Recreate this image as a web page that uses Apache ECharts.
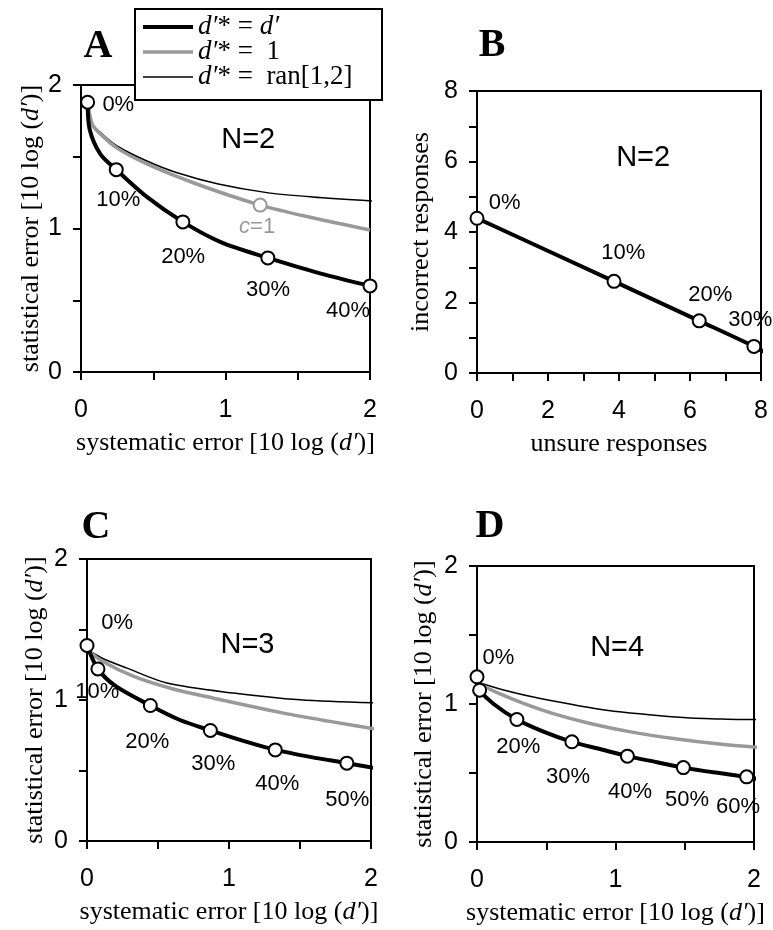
<!DOCTYPE html>
<html>
<head>
<meta charset="utf-8">
<script src="https://cdn.jsdelivr.net/npm/echarts@6/dist/echarts.min.js"></script>
<style>
  html, body { margin: 0; padding: 0; background: #fff; }
  #chart { width: 773px; height: 930px; }
</style>
</head>
<body>
<div id="chart"></div>
<script>
// ---- data ----
// panel A, N=2
const aExact = [[0.046, 1.88], [0.06, 1.69], [0.133, 1.52], [0.244, 1.41], [0.456, 1.22], [0.705, 1.046], [0.963, 0.907], [1.293, 0.795], [1.66, 0.686], [2.0, 0.60]];
const aOne = [[0.046, 1.88], [0.08, 1.72], [0.133, 1.66], [0.25, 1.56], [0.456, 1.45], [0.8, 1.31], [1.24, 1.163], [1.6, 1.075], [2.0, 0.99]];
const aRan = [[0.046, 1.88], [0.08, 1.73], [0.133, 1.67], [0.249, 1.575], [0.456, 1.47], [0.66, 1.39], [0.95, 1.31], [1.286, 1.25], [1.6, 1.22], [2.05, 1.19]];
const aMarks = [[0.046, 1.88], [0.244, 1.41], [0.705, 1.046], [1.293, 0.795], [2.0, 0.60]];
const aOneMark = [[1.24, 1.163]];
// panel B, N=2
const bLine = [[0, 4.39], [3.86, 2.60], [6.26, 1.48], [7.80, 0.755], [8.22, 0.52]];
const bMarks = [[0, 4.39], [3.86, 2.60], [6.26, 1.48], [7.80, 0.755]];
// panel C, N=3
const cExact = [[0, 1.387], [0.077, 1.22], [0.2, 1.10], [0.446, 0.961], [0.65, 0.86], [0.869, 0.784], [1.1, 0.71], [1.326, 0.646], [1.58, 0.595], [1.83, 0.552], [2.07, 0.509]];
const cOne = [[0, 1.36], [0.1, 1.28], [0.329, 1.167], [0.6, 1.08], [0.892, 1.013], [1.385, 0.907], [1.7, 0.85], [2.07, 0.788]];
const cRan = [[0, 1.36], [0.1, 1.30], [0.282, 1.226], [0.563, 1.12], [1.03, 1.049], [1.5, 1.001], [2.07, 0.978]];
const cMarks = [[0, 1.387], [0.077, 1.22], [0.446, 0.961], [0.869, 0.784], [1.326, 0.646], [1.83, 0.552]];
// panel D, N=4
const dExact = [[0, 1.15], [0.019, 1.10], [0.12, 1.0], [0.288, 0.888], [0.48, 0.80], [0.685, 0.726], [0.9, 0.67], [1.086, 0.622], [1.3, 0.578], [1.49, 0.539], [1.72, 0.503], [1.947, 0.472], [2.05, 0.452]];
const dOne = [[0, 1.154], [0.15, 1.08], [0.336, 1.004], [0.55, 0.93], [0.817, 0.859], [1.1, 0.80], [1.418, 0.75], [1.75, 0.71], [2.05, 0.685]];
const dRan = [[0, 1.16], [0.2, 1.10], [0.457, 1.04], [0.937, 0.955], [1.49, 0.902], [1.8, 0.89], [2.05, 0.888]];
const dMarks = [[0, 1.197], [0.019, 1.10], [0.288, 0.888], [0.685, 0.726], [1.086, 0.622], [1.49, 0.539], [1.947, 0.472]];

// tick labels
const errTicks = ['0', '1', '2'];
const countTicks = ['0', '2', '4', '6', '8'];

// annotations (text, x, y in data units)
const aNotes = [['0%', 0.258, 1.861], ['10%', 0.258, 1.198], ['20%', 0.707, 0.80], ['30%', 1.295, 0.57], ['40%', 1.848, 0.423]];
const bNotes = [['0%', 0.78, 4.82], ['10%', 4.12, 3.40], ['20%', 6.57, 2.22], ['30%', 7.7, 1.51]];
const cNotes = [['0%', 0.213, 1.548], ['10%', 0.073, 1.058], ['20%', 0.425, 0.703], ['30%', 0.89, 0.547], ['40%', 1.34, 0.405], ['50%', 1.833, 0.291]];
const dNotes = [['0%', 0.154, 1.333], ['20%', 0.298, 0.687], ['30%', 0.658, 0.47], ['40%', 1.105, 0.361], ['50%', 1.516, 0.303], ['60%', 1.884, 0.253]];
const nLabels = [['N=2', 1.157, 1.616], ['N=2', 4.68, 6.10], ['N=3', 1.13, 1.392], ['N=4', 1.012, 1.406]];

// legend entries: [text, colour, line width]
const legendRows = [
  ['{i|d′}{n|* = }{i|d′}', '#000', 4],
  ['{i|d′}{n|* =  1}', '#999999', 3.5],
  ['{i|d′}{n|* =  ran[1,2]}', '#000', 1.5]
];

const SANS = "'Liberation Sans', Arial, sans-serif";
const SERIF = "'Liberation Serif', 'Times New Roman', serif";
const GRAY = '#999999';
const TITLE_SIZE = 26;

const chart = echarts.init(document.getElementById('chart'), null, { renderer: 'canvas' });

const grids = [
  { left: 81, top: 85, width: 289, height: 287 },
  { left: 477, top: 91, width: 284, height: 282 },
  { left: 87, top: 559, width: 284, height: 282 },
  { left: 477, top: 566, width: 277, height: 276 }
];

const errName = '{n|systematic error [10 log (}{i|d′}{n|)]}';
const statName = '{n|statistical error [10 log (}{i|d′}{n|)]}';
const nameRich = {
  n: { fontFamily: SERIF, fontSize: TITLE_SIZE, color: '#000' },
  i: { fontFamily: SERIF, fontSize: TITLE_SIZE, fontStyle: 'italic', color: '#000' }
};

function axisCommon(max, interval, labels) {
  return {
    type: 'value', min: 0, max: max, interval: interval,
    axisLine: { show: true, onZero: false, lineStyle: { color: '#000', width: 2 } },
    axisTick: { show: true, length: 8, lineStyle: { color: '#000', width: 2 } },
    minorTick: { show: true, splitNumber: 2, length: 8, lineStyle: { color: '#000', width: 2 } },
    splitLine: { show: false },
    axisLabel: {
      fontFamily: SANS, fontSize: 25, color: '#000',
      formatter: v => labels[Math.round(v / interval)]
    }
  };
}

function xAx(i, max, interval, labels, name, gap) {
  const a = axisCommon(max, interval, labels);
  a.gridIndex = i;
  a.axisLabel.margin = 26;
  a.name = name; a.nameLocation = 'middle'; a.nameGap = gap;
  a.nameTextStyle = { fontFamily: SERIF, fontSize: TITLE_SIZE, color: '#000', rich: nameRich };
  return a;
}
function yAx(i, max, interval, labels, name, gap) {
  const a = axisCommon(max, interval, labels);
  a.gridIndex = i;
  a.axisLabel.margin = 19;
  a.name = name; a.nameLocation = 'middle'; a.nameGap = gap;
  a.nameTextStyle = { fontFamily: SERIF, fontSize: TITLE_SIZE, color: '#000', rich: nameRich };
  return a;
}

function curve(name, data, i, color, width, z) {
  return {
    type: 'line', name: name, data: data, xAxisIndex: i, yAxisIndex: i,
    symbol: 'none', smooth: 0.3, clip: false, silent: true,
    lineStyle: { color: color, width: width, cap: 'butt', join: 'round' }, itemStyle: { color: color }, z: z
  };
}
function markers(data, i, color) {
  return {
    type: 'scatter', data: data, xAxisIndex: i, yAxisIndex: i,
    symbol: 'circle', symbolSize: 13, clip: false, silent: true,
    itemStyle: { color: '#fff', borderColor: color, borderWidth: 2, opacity: 1 }, z: 5
  };
}
function notes(list, i, size, color, fmt) {
  return {
    type: 'scatter', xAxisIndex: i, yAxisIndex: i, clip: false, silent: true,
    data: list.map(n => ({ value: [n[1], n[2]], name: n[0] })),
    symbol: 'circle', symbolSize: 1, itemStyle: { color: 'rgba(0,0,0,0)', opacity: 1 },
    label: {
      show: true, position: 'inside', align: 'center', verticalAlign: 'middle',
      fontFamily: SANS, fontSize: size, color: color, opacity: 1,
      formatter: fmt || (p => p.name),
      rich: { i: { fontFamily: SANS, fontSize: size, fontStyle: 'italic', color: color } }
    },
    z: 6
  };
}

const series = [
  // A
  curve('ran', aRan, 0, '#000', 1.5, 2),
  curve('one', aOne, 0, GRAY, 3.5, 3),
  curve('exact', aExact, 0, '#000', 4, 4),
  markers(aMarks, 0, '#000'),
  markers(aOneMark, 0, GRAY),
  notes(aNotes, 0, 22, '#000'),
  notes([['c=1', 1.219, 1.009]], 0, 22, GRAY, () => '{i|c}=1'),
  // B
  curve('line B', bLine, 1, '#000', 4, 4),
  markers(bMarks, 1, '#000'),
  notes(bNotes, 1, 22, '#000'),
  // C
  curve('ran', cRan, 2, '#000', 1.5, 2),
  curve('one', cOne, 2, GRAY, 3.5, 3),
  curve('exact', cExact, 2, '#000', 4, 4),
  markers(cMarks, 2, '#000'),
  notes(cNotes, 2, 22, '#000'),
  // D
  curve('ran', dRan, 3, '#000', 1.5, 2),
  curve('one', dOne, 3, GRAY, 3.5, 3),
  curve('exact', dExact, 3, '#000', 4, 4),
  markers(dMarks, 3, '#000'),
  notes(dNotes, 3, 22, '#000')
];
nLabels.forEach((n, i) => series.push(notes([n], i, 29, '#000')));

const letters = [['A', 98, 47], ['B', 492, 46], ['C', 96, 528], ['D', 490, 527]];

// legend box drawn by hand so the line widths match the curves
const legendGraphic = [{
  type: 'rect', z: 100,
  shape: { x: 135, y: 9, width: 247, height: 91 },
  style: { fill: '#fff', stroke: '#000', lineWidth: 2 }
}];
legendRows.forEach((r, k) => {
  const y = 27 + k * 25;
  legendGraphic.push({
    type: 'line', z: 101,
    shape: { x1: 143, y1: y, x2: 193, y2: y },
    style: { stroke: r[1], lineWidth: r[2] }
  });
  legendGraphic.push({
    type: 'text', z: 101, x: 198, y: y,
    style: {
      text: r[0], fill: '#000', verticalAlign: 'middle',
      rich: {
        n: { fontFamily: SERIF, fontSize: 27, fill: '#000' },
        i: { fontFamily: SERIF, fontSize: 27, fontStyle: 'italic', fill: '#000' }
      }
    }
  });
});

chart.setOption({
  animation: false,
  backgroundColor: '#fff',
  grid: grids.map(g => Object.assign({ show: true, borderColor: '#000', borderWidth: 2, backgroundColor: 'transparent' }, g)),
  xAxis: [
    xAx(0, 2, 1, errTicks, errName, 58),
    xAx(1, 8, 2, countTicks, 'unsure responses', 58),
    xAx(2, 2, 1, errTicks, errName, 58),
    xAx(3, 2, 1, errTicks, errName, 58)
  ],
  yAxis: [
    yAx(0, 2, 1, errTicks, statName, 36),
    yAx(1, 8, 2, countTicks, 'incorrect responses', 43),
    yAx(2, 2, 1, errTicks, statName, 39),
    yAx(3, 2, 1, errTicks, statName, 40)
  ],
  graphic: letters.map(l => ({
    type: 'text', x: l[1], y: l[2],
    style: { text: l[0], font: 'bold 40px ' + SERIF, fill: '#000', align: 'center', verticalAlign: 'middle' }
  })).concat(legendGraphic),
  series: series
});
</script>
</body>
</html>
